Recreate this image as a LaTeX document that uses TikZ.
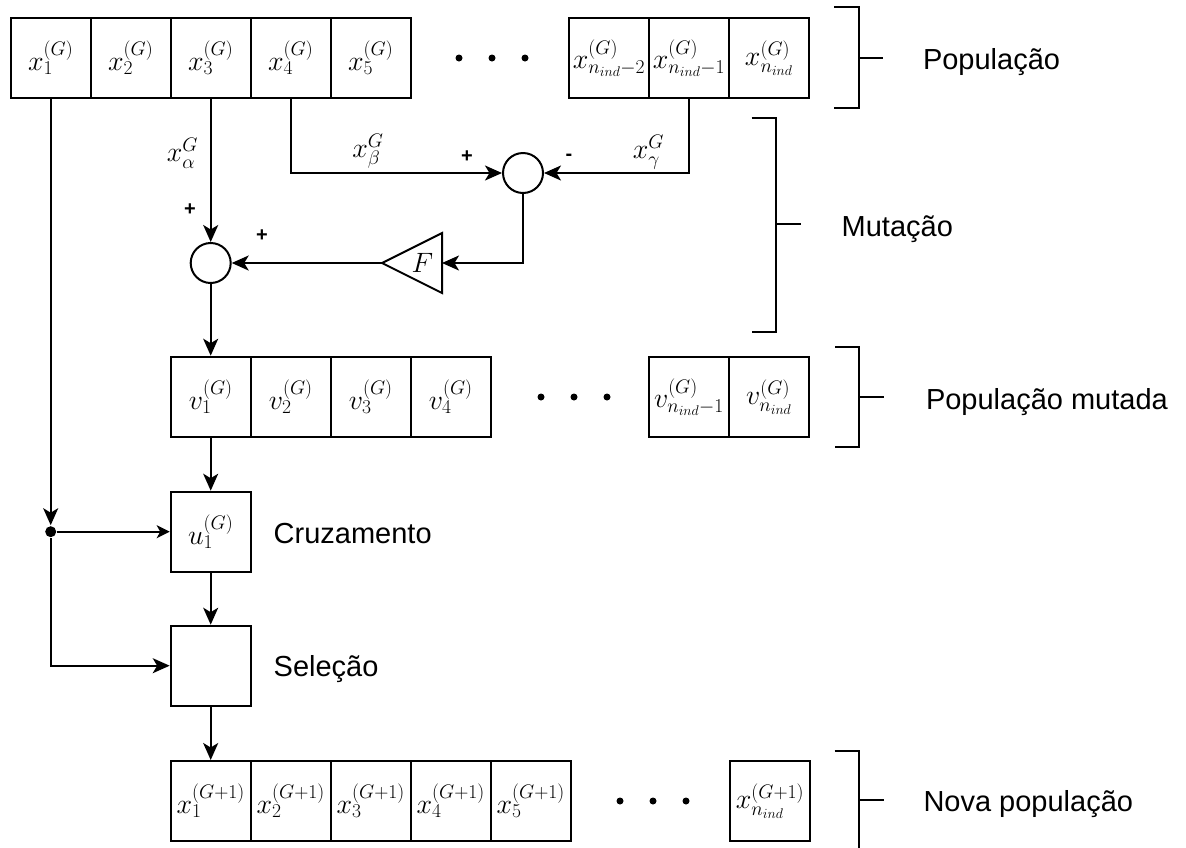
\RequirePackage{fix-cm}
\documentclass[tikz,border=0pt]{standalone}
\usepackage{fontspec}
\newfontfamily\labelfont{Liberation Sans}
\usetikzlibrary{arrows.meta}

\tikzset{
  cell/.style={draw, minimum width=80pt, minimum height=80pt, inner sep=0pt,
    font=\fontsize{28}{32}\selectfont},
  junc/.style={circle, draw, minimum size=40pt, inner sep=0pt},
  dotn/.style={circle, fill, inner sep=0pt, minimum size=7pt},
  tap/.style={circle, fill, inner sep=0pt, minimum size=11pt},
  arr/.style={-{Stealth[length=17pt,width=15pt,inset=4.5pt]}},
  arrsmall/.style={-{Stealth[length=13pt,width=13pt,inset=3.5pt]}},
  mlab/.style={inner sep=0pt, font=\fontsize{28}{32}\selectfont},
  sign/.style={inner sep=0pt, font=\labelfont\bfseries\fontsize{20}{24}\selectfont},
  stage/.style={anchor=base west, inner sep=0pt, font=\labelfont\fontsize{29}{34}\selectfont},
}

\begin{document}
\begin{tikzpicture}[x=1pt, y=-1pt, line width=2pt]
\useasboundingbox (0,0) rectangle (1186,847);

% current population
\node[cell] (x1) at (50.7,58) {$x_1^{(G)}$};
\node[cell] (x2) at (130.7,58) {$x_2^{(G)}$};
\node[cell] (x3) at (210.7,58) {$x_3^{(G)}$};
\node[cell] (x4) at (290.7,58) {$x_4^{(G)}$};
\node[cell] (x5) at (370.7,58) {$x_5^{(G)}$};
\node[dotn] (xd1) at (459,58) {};
\node[dotn] (xd2) at (492,58) {};
\node[dotn] (xd3) at (525,58) {};
\node[cell] (xm2) at (609,58) {$x_{n_{ind}-2}^{(G)}$};
\node[cell] (xm1) at (689,58) {$x_{n_{ind}-1}^{(G)}$};
\node[cell] (xn) at (769,58) {$x_{n_{ind}}^{(G)}$};

% mutation
\node[junc] (diff) at (523,173) {};
\node[junc] (sum) at (210.7,263) {};
\draw (382,263) -- (442,233) -- (442,293) -- cycle;
\coordinate (Ftip) at (382,263);
\coordinate (Fin) at (442,263);
\node[mlab] (F) at (422.5,263) {$F$};

\draw[arr] (x3.south) -- (sum.north);
\draw[arr] (x4.south) |- (diff.west);
\draw[arr] (xm1.south) |- (diff.east);
\draw[arr] (diff.south) |- (Fin);
\draw[arr] (Ftip) -- (sum.east);

\node[mlab] (la) at (182.5,153) {$x_\alpha^G$};
\node[mlab] (lb) at (368,151.5) {$x_\beta^G$};
\node[mlab] (lc) at (648.5,152) {$x_\gamma^G$};
\node[sign] (pa) at (190,210) {+};
\node[sign] (pf) at (262,236) {+};
\node[sign] (pb) at (467,157) {+};
\node[sign] (mc) at (569,157) {-};

% mutated population
\node[cell] (v1) at (210.7,396.7) {$v_1^{(G)}$};
\node[cell] (v2) at (290.7,396.7) {$v_2^{(G)}$};
\node[cell] (v3) at (370.7,396.7) {$v_3^{(G)}$};
\node[cell] (v4) at (450.7,396.7) {$v_4^{(G)}$};
\node[dotn] (vd1) at (541,397) {};
\node[dotn] (vd2) at (574,397) {};
\node[dotn] (vd3) at (607,397) {};
\node[cell] (vm1) at (689,396.7) {$v_{n_{ind}-1}^{(G)}$};
\node[cell] (vn) at (769,396.7) {$v_{n_{ind}}^{(G)}$};
\draw[arr] (sum.south) -- (v1.north);

% crossover and selection
\node[cell] (u1) at (210.7,531.7) {$u_1^{(G)}$};
\node[cell] (sel) at (210.7,665.7) {};
\node[tap] (j) at (50.7,531.7) {};
\draw[arr] (x1.south) -- (j);
\draw[arrsmall] (j) -- (u1.west);
\draw[arr] (j) |- (sel.west);
\draw[arr] (v1.south) -- (u1.north);
\draw[arr] (u1.south) -- (sel.north);

% new population
\node[cell] (n1) at (210.7,801) {$x_1^{(G+1)}$};
\node[cell] (n2) at (290.7,801) {$x_2^{(G+1)}$};
\node[cell] (n3) at (370.7,801) {$x_3^{(G+1)}$};
\node[cell] (n4) at (450.7,801) {$x_4^{(G+1)}$};
\node[cell] (n5) at (530.7,801) {$x_5^{(G+1)}$};
\node[dotn] (nd1) at (620,801) {};
\node[dotn] (nd2) at (653,801) {};
\node[dotn] (nd3) at (686,801) {};
\node[cell] (nn) at (770,801) {$x_{n_{ind}}^{(G+1)}$};
\draw[arr] (sel.south) -- (n1.north);

% stage brackets
\draw (834,7.3) -- (859,7.3) -- (859,107.7) -- (834,107.7);
\draw (859,57.7) -- (883,57.7);
\draw (751.5,117.7) -- (775.7,117.7) -- (775.7,331.7) -- (751.5,331.7);
\draw (775.7,224.3) -- (800.7,224.3);
\draw (835,346.7) -- (859.3,346.7) -- (859.3,446.7) -- (835,446.7);
\draw (859.3,396.7) -- (884,396.7);
\draw (834.6,750.7) -- (858.5,750.7) -- (858.5,850);
\draw (858.5,800) -- (884,800);

\node[stage] (tp) at (922,69) {População};
\node[stage] (tm) at (840.7,236) {Mutação};
\node[stage] (tpm) at (925,409) {População mutada};
\node[stage] (tnp) at (922.5,811.7) {Nova população};
\node[stage] (tc) at (272.7,543) {Cruzamento};
\node[stage] (ts) at (272.7,676.7) {Seleção};
\end{tikzpicture}
\end{document}
